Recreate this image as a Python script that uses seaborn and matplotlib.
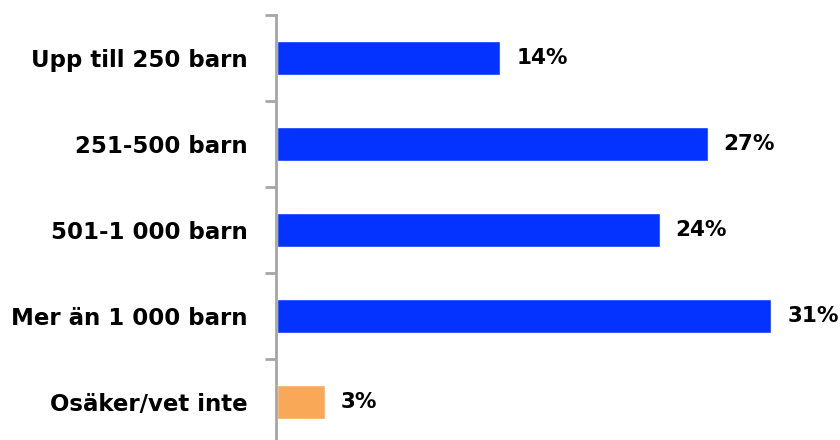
import matplotlib
matplotlib.use("Agg")
import matplotlib.pyplot as plt
import seaborn as sns
import pandas as pd
import numpy as np

categories = ["Upp till 250 barn", "251-500 barn", "501-1 000 barn", "Mer än 1 000 barn", "Osäker/vet inte"]
values = [14, 27, 24, 31, 3]
colors = ["#0433FF", "#0433FF", "#0433FF", "#0433FF", "#F9A857"]

sns.set_theme(style="white")
plt.rcParams['font.family'] = ['DejaVu Sans']

df = pd.DataFrame({"cat": categories, "val": values})

fig = plt.figure(figsize=(8.4, 4.4), dpi=100)
ax = fig.add_axes([277/840, -5/440, 1 - 277/840, 430/440])

sns.barplot(data=df, y="cat", x="val", hue="cat", palette=colors, legend=False,
            orient="h", width=0.4, ax=ax, saturation=1)

ax.set_xlim(0, 35.3)
ax.set_ylim(len(categories) - 0.5, -0.5)
ax.set_xlabel("")
ax.set_ylabel("")
ax.set_xticks([])

for s in ["top", "right", "bottom"]:
    ax.spines[s].set_visible(False)
ax.spines["left"].set_color("#A6A6A6")
ax.spines["left"].set_linewidth(2)
ax.spines["left"].set_position(("outward", 1))

ax.set_yticks(range(len(categories)))
ax.set_yticklabels(categories, fontsize=16.5, fontweight="bold", color="black")
ax.tick_params(axis="y", which="major", length=0, pad=20)
ax.set_yticks(np.arange(-0.5, len(categories), 1), minor=True)
ax.tick_params(axis="y", which="minor", length=8, width=2, color="#A6A6A6", left=True)

for i, v in enumerate(values):
    ax.text(v + 1.0, i, f"{v}%", va="center", ha="left", fontsize=15.5, fontweight="bold", color="black")

fig.savefig("out.png", dpi=100)
